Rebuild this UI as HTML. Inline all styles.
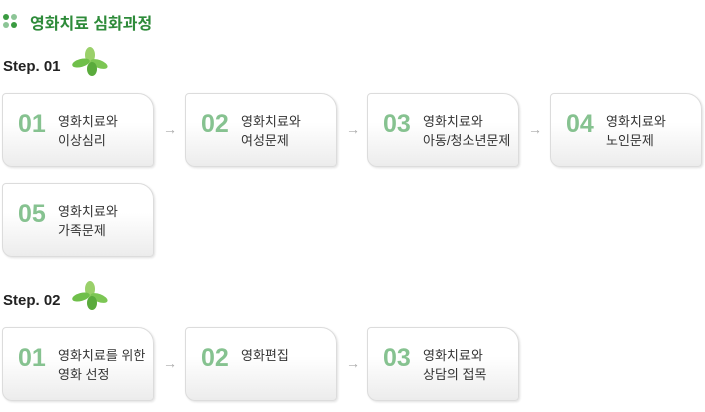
<!DOCTYPE html>
<html><head><meta charset="utf-8"><style>
body{margin:0;width:705px;height:412px;background:#fff;position:relative;overflow:hidden;font-family:"Liberation Sans","Noto Sans CJK KR",sans-serif}
.t{position:absolute;left:30px;top:10px;font-size:16px;font-weight:bold;color:#2e8b3a}
.dots{position:absolute;left:3px;top:14px;width:14px;height:14px}
.dots i{position:absolute;width:6px;height:6px;border-radius:50%;background:#3a9b40}
.step{position:absolute;left:3px;font-size:15px;font-weight:bold;color:#222}
.b{position:absolute;width:152px;height:74px;border:1px solid #dcdcdc;border-radius:4px 16px 4px 10px;background:linear-gradient(#fff 40%,#ececec);box-shadow:1px 1px 2px #e0e0e0;box-sizing:border-box}
.n{position:absolute;left:15px;top:16px;font-size:25px;font-weight:bold;color:#86c290}
.x{position:absolute;left:55px;top:18px;font-size:13px;line-height:19px;color:#333}
.a{position:absolute;color:#aaa;font-size:14px;font-weight:bold}
.leaf{position:absolute;width:36px;height:30px}
</style></head><body>
<div class="dots"><i style="left:0;top:0"></i><i style="left:8px;top:0;background:#8cc596"></i><i style="left:0;top:8px;background:#8cc596"></i><i style="left:8px;top:8px"></i></div>
<div class="t">영화치료 심화과정</div>
<div class="step" style="top:58px">Step. 01</div>
<svg class="leaf" style="left:72px;top:46px" viewBox="0 0 36 30"><ellipse cx="18" cy="9" rx="5" ry="8" fill="#9ad06a"/><ellipse cx="9" cy="17" rx="9" ry="4" fill="#6fbf4a" transform="rotate(-15 9 17)"/><ellipse cx="27" cy="18" rx="9" ry="4" fill="#7cc654" transform="rotate(20 27 18)"/><ellipse cx="20" cy="23" rx="5" ry="7" fill="#5aab3c"/></svg>
<div class="step" style="top:292px">Step. 02</div>
<svg class="leaf" style="left:72px;top:280px" viewBox="0 0 36 30"><ellipse cx="18" cy="9" rx="5" ry="8" fill="#9ad06a"/><ellipse cx="9" cy="17" rx="9" ry="4" fill="#6fbf4a" transform="rotate(-15 9 17)"/><ellipse cx="27" cy="18" rx="9" ry="4" fill="#7cc654" transform="rotate(20 27 18)"/><ellipse cx="20" cy="23" rx="5" ry="7" fill="#5aab3c"/></svg>

<div class="b" style="left:2px;top:93px"><div class="n">01</div><div class="x">영화치료와<br>이상심리</div></div>
<div class="a" style="left:163px;top:121px">→</div>
<div class="b" style="left:185px;top:93px"><div class="n">02</div><div class="x">영화치료와<br>여성문제</div></div>
<div class="a" style="left:346px;top:121px">→</div>
<div class="b" style="left:367px;top:93px"><div class="n">03</div><div class="x">영화치료와<br>아동/청소년문제</div></div>
<div class="a" style="left:528px;top:121px">→</div>
<div class="b" style="left:550px;top:93px"><div class="n">04</div><div class="x">영화치료와<br>노인문제</div></div>
<div class="b" style="left:2px;top:183px"><div class="n">05</div><div class="x">영화치료와<br>가족문제</div></div>

<div class="b" style="left:2px;top:327px"><div class="n">01</div><div class="x">영화치료를 위한<br>영화 선정</div></div>
<div class="a" style="left:163px;top:355px">→</div>
<div class="b" style="left:185px;top:327px"><div class="n">02</div><div class="x">영화편집</div></div>
<div class="a" style="left:346px;top:355px">→</div>
<div class="b" style="left:367px;top:327px"><div class="n">03</div><div class="x">영화치료와<br>상담의 접목</div></div>
</body></html>
